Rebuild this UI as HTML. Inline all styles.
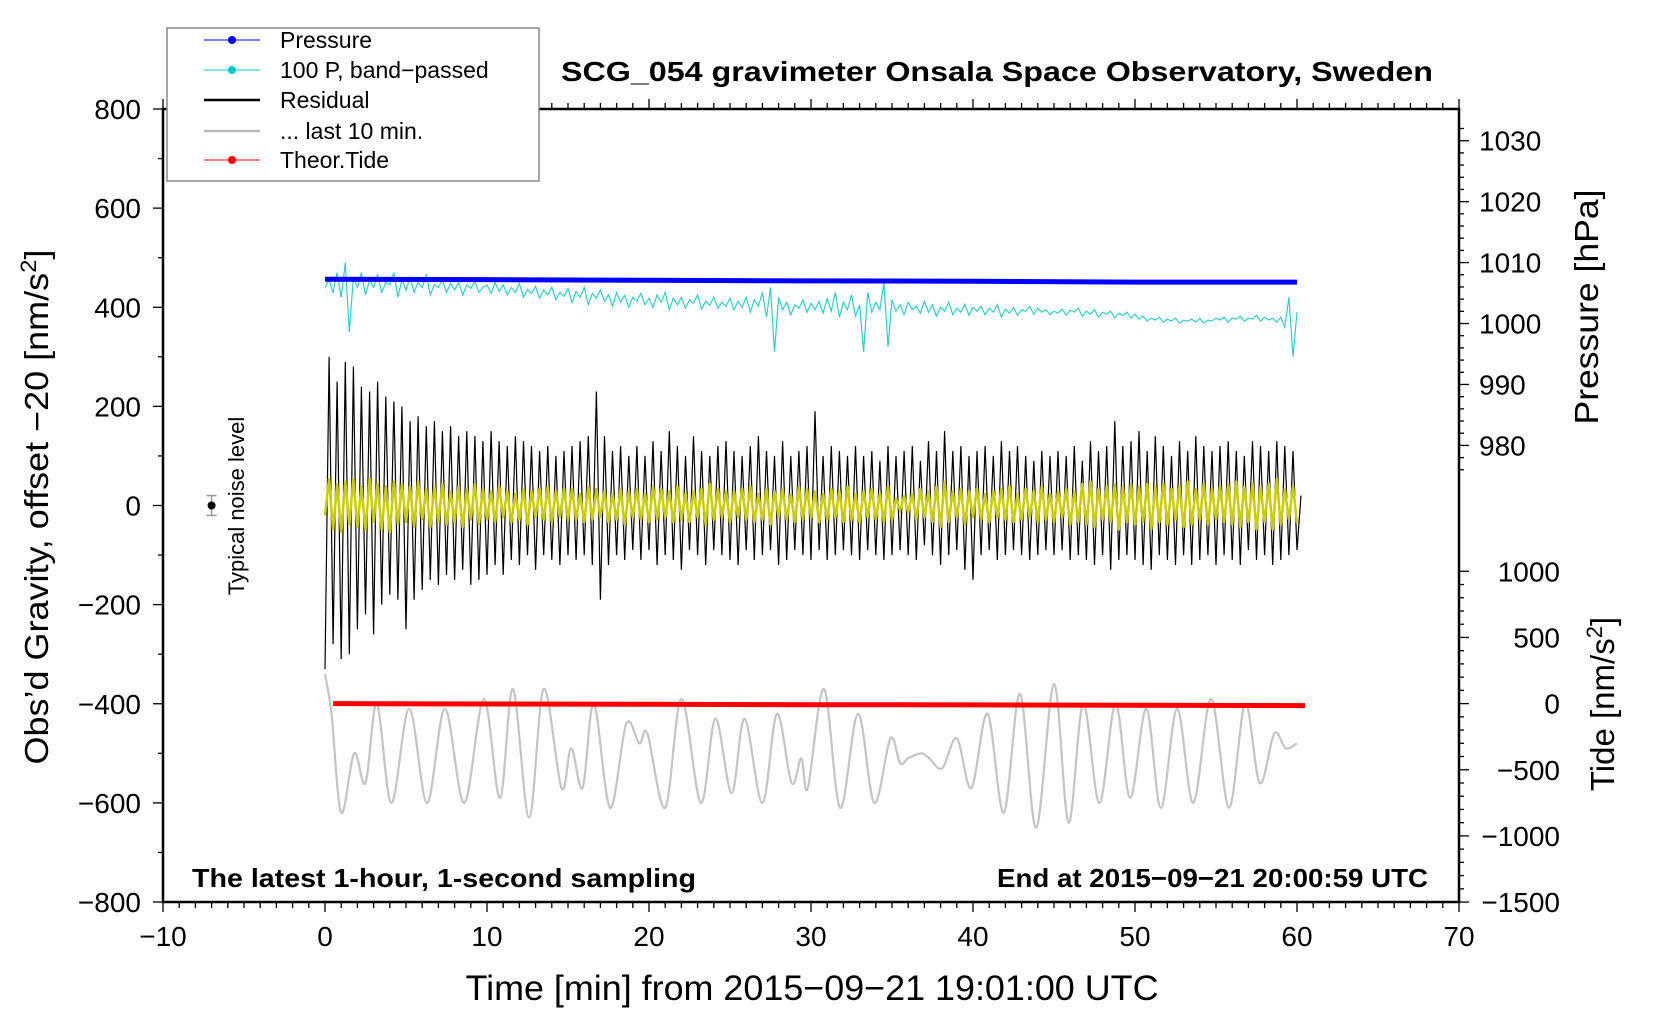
<!DOCTYPE html>
<html><head><meta charset="utf-8"><style>
html,body{margin:0;padding:0;background:#fff;}
svg{display:block;font-family:"Liberation Sans",sans-serif;}
</style></head><body>
<svg id="chart" width="1660" height="1020" viewBox="0 0 1660 1020" xmlns="http://www.w3.org/2000/svg">
<rect x="0" y="0" width="1660" height="1020" fill="#fff"/>
<g id="marks"></g>
<g id="axes"></g>
<text x="997" y="81" text-anchor="middle" font-size="28" font-weight="bold" textLength="872" lengthAdjust="spacingAndGlyphs">SCG_054 gravimeter Onsala Space Observatory, Sweden</text>
<text x="812" y="1000" text-anchor="middle" font-size="35" textLength="693" lengthAdjust="spacingAndGlyphs">Time [min] from 2015−09−21 19:01:00 UTC</text>
<text transform="translate(48,507) rotate(-90)" text-anchor="middle" font-size="33" textLength="515" lengthAdjust="spacingAndGlyphs">Obs’d Gravity, offset −20 [nm/s<tspan font-size="22" dy="-12">2</tspan><tspan dy="12">]</tspan></text>
<text transform="translate(1598,307) rotate(-90)" text-anchor="middle" font-size="33" textLength="235" lengthAdjust="spacingAndGlyphs">Pressure [hPa]</text>
<text transform="translate(1614,704) rotate(-90)" text-anchor="middle" font-size="33">Tide [nm/s<tspan font-size="22" dy="-12">2</tspan><tspan dy="12">]</tspan></text>
<text transform="translate(244,506) rotate(-90)" text-anchor="middle" font-size="22">Typical noise level</text>
<text x="192" y="887" font-size="26" font-weight="bold" textLength="504" lengthAdjust="spacingAndGlyphs">The latest 1-hour, 1-second sampling</text>
<text x="997" y="887" font-size="26" font-weight="bold" textLength="431" lengthAdjust="spacingAndGlyphs">End at 2015−09−21 20:00:59 UTC</text>
<g>
<rect x="167" y="28" width="372" height="153" fill="#fff" stroke="#888" stroke-width="1.5"/>
<g><line x1="204" y1="40" x2="260" y2="40" stroke="#00f" stroke-width="1"/><circle cx="232" cy="40" r="4" fill="#00f"/><text x="280" y="48" font-size="23">Pressure</text></g>
<g><line x1="204" y1="70" x2="260" y2="70" stroke="#0cc" stroke-width="1"/><circle cx="232" cy="70" r="4" fill="#0cc"/><text x="280" y="78" font-size="23">100 P, band−passed</text></g>
<g><line x1="204" y1="100" x2="260" y2="100" stroke="#000" stroke-width="2.5"/><text x="280" y="108" font-size="23">Residual</text></g>
<g><line x1="204" y1="131" x2="260" y2="131" stroke="#bbb" stroke-width="2.5"/><text x="280" y="139" font-size="23">... last 10 min.</text></g>
<g><line x1="204" y1="160" x2="260" y2="160" stroke="#f00" stroke-width="1"/><circle cx="232" cy="160" r="4" fill="#f00"/><text x="280" y="168" font-size="23">Theor.Tide</text></g>
</g>
</svg>
<script>
const xTicks=[-10,0,10,20,30,40,50,60,70];
const yTicks=[800,600,400,200,0,-200,-400,-600,-800];
const pTicks=[1030,1020,1010,1000,990,980];
const tTicks=[1000,500,0,-500,-1000,-1500];
const resStep=0.25;
const residual=[-330,300,-280,250,-310,290,-300,280,-250,240,-220,230,-260,250,-200,220,-180,210,-190,200,-250,
170,-190,180,-170,160,-150,170,-160,150,-140,160,-150,140,-130,150,-160,140,-150,130,-140,
150,-120,130,-140,120,-110,140,-120,130,-100,120,-130,110,-100,120,-110,100,-120,110,-100,
120,-110,130,-100,140,-120,230,-190,140,-120,110,-100,120,-110,100,-90,120,-110,100,-90,
130,-120,110,-100,150,-110,120,-130,100,-90,140,-100,110,-120,100,-90,120,-100,130,-110,
110,-120,100,-90,120,-110,140,-100,110,-90,100,-120,130,-110,100,-90,110,-100,120,-110,
190,-90,100,-110,120,-100,110,-90,100,-100,120,-110,100,-90,110,-100,90,-110,120,-100,
100,-90,110,-100,120,-110,90,-80,130,-100,110,-120,150,-100,110,-90,120,-130,100,-150,
110,-100,120,-90,100,-110,130,-100,110,-90,120,-100,100,-110,90,-100,110,-90,100,-100,
110,-90,100,-110,120,-100,90,-110,130,-120,110,-100,120,-130,170,-110,120,-100,130,-110,
150,-120,110,-130,140,-100,120,-110,100,-120,130,-100,110,-120,140,-110,120,-100,110,-120,
120,-100,130,-110,110,-120,100,-90,130,-110,120,-100,110,-120,130,-110,120,-100,110,-90,20];
const bandPassed=[440,455,430,470,420,490,350,460,440,470,425,455,440,465,430,450,445,470,420,455,435,
460,430,450,440,465,425,445,440,455,430,448,435,450,425,445,438,452,430,440,445,
428,450,432,445,425,440,430,448,420,436,428,442,418,435,425,440,415,430,422,438,
410,432,420,440,405,428,418,435,412,425,402,430,410,424,400,420,412,428,405,418,
400,425,410,430,395,418,405,420,398,415,408,425,396,412,404,420,398,410,402,418,
395,412,400,420,390,415,402,430,380,440,310,420,395,410,385,405,398,415,390,408,
395,412,388,418,392,430,380,410,395,425,382,405,310,430,390,410,395,450,320,415,
392,405,385,410,395,402,388,412,390,405,382,400,392,410,385,398,390,406,384,400,
392,402,385,398,390,405,380,396,388,400,384,395,392,402,386,398,390,395,385,392,
388,396,384,394,390,398,382,392,386,395,380,390,386,392,378,388,384,390,378,386,
376,382,372,378,374,380,370,376,372,378,368,374,372,376,370,378,368,374,372,378,
374,380,370,378,376,382,372,378,376,384,372,380,374,378,370,380,360,420,300,390];
const filtered=[-20,55,-50,45,-55,50,-40,55,-45,40,-50,55,-35,45,-50,40,-55,50,-40,45,-35,
40,-45,50,-30,35,-45,40,-35,45,-40,30,-35,40,-45,35,-30,45,-40,35,-30,
30,-35,40,-25,30,-35,25,-30,35,-40,30,-25,35,-30,40,-35,30,-25,35,-30,
35,-30,25,-35,40,-30,35,-25,30,-35,25,-30,35,-40,30,-25,35,-30,25,-35,
40,-30,35,-25,30,-35,40,-30,25,-35,30,-25,35,-40,45,-30,35,-25,30,-35,
30,-25,35,-30,40,-35,25,-30,35,-40,30,-25,35,-30,25,-35,40,-30,35,-25,
30,-35,25,-30,35,-25,30,-35,40,-30,25,-35,30,-25,35,-30,25,-35,40,-30,
15,-10,20,-15,25,-30,35,-25,30,-35,40,-45,50,-35,30,-25,35,-40,30,-25,
35,-30,25,-35,30,-25,35,-30,40,-35,25,-30,35,-25,30,-35,40,-30,25,-35,
30,-25,35,-40,30,-35,45,-40,50,-45,35,-30,40,-35,45,-50,40,-35,45,-40,
40,-35,45,-50,40,-35,45,-40,35,-30,40,-45,50,-40,35,-30,45,-40,35,-30,
40,-35,45,-40,50,-45,40,-35,45,-50,40,-35,45,-50,55,-40,35,-30,40,-35];
const lastTimes=[0,0.4,1.0,1.8,2.5,3.2,4.1,5.2,6.3,7.4,8.6,9.8,10.8,11.6,12.6,13.5,14.6,15.2,15.9,16.6,17.6,18.6,19.4,19.9,21.0,22.0,23.2,24.1,25.1,25.9,27.0,27.9,28.8,29.4,29.8,30.8,31.8,32.9,33.9,34.9,35.5,36.0,36.8,37.3,38.1,39.0,39.9,40.9,41.9,42.9,43.9,45.0,45.9,46.8,47.8,48.8,49.7,50.7,51.6,52.6,53.6,54.7,55.8,56.8,57.7,58.6,59.3,60.0];
const lastVals=[-340,-420,-620,-500,-560,-400,-600,-410,-600,-410,-600,-390,-590,-370,-630,-370,-570,-490,-570,-400,-610,-440,-480,-460,-610,-390,-600,-430,-580,-430,-600,-420,-560,-510,-570,-370,-610,-420,-600,-470,-520,-510,-500,-510,-530,-470,-570,-420,-620,-380,-650,-360,-640,-400,-600,-400,-590,-410,-610,-410,-600,-390,-610,-400,-560,-460,-490,-480];
const pressTimes=[0,10,20,30,40,50,60];
const pressVals=[1007.25,1007.2,1007.1,1007.0,1006.95,1006.8,1006.8];
const tideTimes=[0.5,10,20,30,40,50,60.5];
const tideVals=[0,-3,-5,-8,-10,-12,-15];

const L=163,R=1459,T=109,B=902;
const xs=v=>L+(v+10)*(R-L)/80;
const ys=v=>T+(800-v)*(B-T)/1600;
const ps=v=>140.7+(1030-v)*6.094;
const ts=v=>703.6-v*0.1323;
const NS='http://www.w3.org/2000/svg';
const marks=document.getElementById('marks'), axes=document.getElementById('axes');
function mk(tag,attrs,parent){const e=document.createElementNS(NS,tag);for(const k in attrs)e.setAttribute(k,attrs[k]);parent.appendChild(e);return e;}
function smooth(pts){let d='M'+pts[0][0].toFixed(1)+','+pts[0][1].toFixed(1);
 for(let i=0;i<pts.length-1;i++){const p0=pts[Math.max(0,i-1)],p1=pts[i],p2=pts[i+1],p3=pts[Math.min(pts.length-1,i+2)];
 const c1=[p1[0]+(p2[0]-p0[0])/6,p1[1]+(p2[1]-p0[1])/6],c2=[p2[0]-(p3[0]-p1[0])/6,p2[1]-(p3[1]-p1[1])/6];
 d+=' C'+c1[0].toFixed(1)+','+c1[1].toFixed(1)+' '+c2[0].toFixed(1)+','+c2[1].toFixed(1)+' '+p2[0].toFixed(1)+','+p2[1].toFixed(1);}return d;}
function poly(pts){return 'M'+pts.map(p=>p[0].toFixed(1)+','+p[1].toFixed(1)).join(' L');}

let e;
e=mk('path',{d:poly(bandPassed.map((v,i)=>[xs(i*resStep),ys(v)])),fill:'none',stroke:'#33cccc','stroke-width':1.2},marks);


e=mk('path',{d:poly(pressTimes.map((t,i)=>[xs(t),ps(pressVals[i])])),fill:'none',stroke:'#0000ff','stroke-width':5},marks);


e=mk('path',{d:poly(residual.map((v,i)=>[xs(i*resStep),ys(v)])),fill:'none',stroke:'#000','stroke-width':1.2},marks);


e=mk('path',{d:poly(filtered.map((v,i)=>[xs(i*resStep),ys(v)])),fill:'none',stroke:'#cccc00','stroke-width':2.5},marks);


e=mk('path',{d:smooth(lastTimes.map((t,i)=>[xs(t),ys(lastVals[i])])),fill:'none',stroke:'#c4c4c4','stroke-width':2.2},marks);


e=mk('path',{d:poly(tideTimes.map((t,i)=>[xs(t),ts(tideVals[i])])),fill:'none',stroke:'#ff0000','stroke-width':5},marks);


e=mk('g',{},marks);


mk('line',{x1:xs(-7),x2:xs(-7),y1:ys(20),y2:ys(-20),stroke:'#999','stroke-width':1.5},e);
mk('line',{x1:xs(-7)-5,x2:xs(-7)+5,y1:ys(20),y2:ys(20),stroke:'#999','stroke-width':1.5},e);
mk('line',{x1:xs(-7)-5,x2:xs(-7)+5,y1:ys(-20),y2:ys(-20),stroke:'#999','stroke-width':1.5},e);
mk('circle',{cx:xs(-7),cy:ys(0),r:4,fill:'#000'},e);

e=mk('rect',{x:L,y:T,width:R-L,height:B-T,fill:'none',stroke:'#000','stroke-width':2.5},axes);


for(let v=-10;v<=70;v+=1){const maj=v%10===0;const x=xs(v);
 mk('line',{x1:x,x2:x,y1:B,y2:B+(maj?10:6),stroke:'#000','stroke-width':1.3},axes);
 mk('line',{x1:x,x2:x,y1:T,y2:T-(maj?10:6),stroke:'#000','stroke-width':1.3},axes);}
xTicks.forEach(v=>{e=mk('text',{x:xs(v),y:946,'text-anchor':'middle','font-size':28},axes);e.textContent=String(v).replace('-','−');

});
for(let v=-800;v<=800;v+=100){const maj=v%200===0;mk('line',{x1:L,x2:L-(maj?10:5),y1:ys(v),y2:ys(v),stroke:'#000','stroke-width':1.3},axes);}
yTicks.forEach(v=>{e=mk('text',{x:141,y:ys(v)+10,'text-anchor':'end','font-size':28},axes);e.textContent=String(v).replace('-','−');

});
for(let v=1032;v>=976;v-=2){const maj=v%10===0;mk('line',{x1:R,x2:R+(maj?10:5),y1:ps(v),y2:ps(v),stroke:'#000','stroke-width':1.3},axes);}
pTicks.forEach(v=>{e=mk('text',{x:1479,y:ps(v)+10,'font-size':28},axes);e.textContent=String(v);

});
for(let v=1000;v>=-1500;v-=100){const maj=v%500===0;mk('line',{x1:R,x2:R+(maj?10:5),y1:ts(v),y2:ts(v),stroke:'#000','stroke-width':1.3},axes);}
tTicks.forEach(v=>{e=mk('text',{x:1560,y:ts(v)+10,'text-anchor':'end','font-size':28},axes);e.textContent=String(v).replace('-','−');

});
</script>
</body></html>
